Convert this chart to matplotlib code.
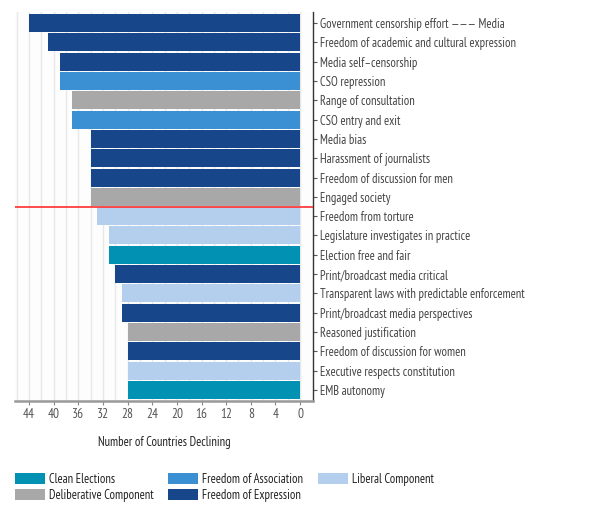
import matplotlib
matplotlib.use("Agg")
import matplotlib.pyplot as plt
from matplotlib.patches import Patch
import numpy as np

plt.rcParams['font.family'] = ['PT Sans Narrow', 'DejaVu Sans']

indicators = [
    "Government censorship effort \u2014\u2014\u2014 Media",
    "Freedom of academic and cultural expression",
    "Media self\u2013censorship",
    "CSO repression",
    "Range of consultation",
    "CSO entry and exit",
    "Media bias",
    "Harassment of journalists",
    "Freedom of discussion for men",
    "Engaged society",
    "Freedom from torture",
    "Legislature investigates in practice",
    "Election free and fair",
    "Print/broadcast media critical",
    "Transparent laws with predictable enforcement",
    "Print/broadcast media perspectives",
    "Reasoned justification",
    "Freedom of discussion for women",
    "Executive respects constitution",
    "EMB autonomy",
]
declining = [44, 41, 39, 39, 37, 37, 34, 34, 34, 34, 33, 31, 31, 30, 29, 29, 28, 28, 28, 28]
component = [
    "Freedom of Expression", "Freedom of Expression", "Freedom of Expression",
    "Freedom of Association", "Deliberative Component", "Freedom of Association",
    "Freedom of Expression", "Freedom of Expression", "Freedom of Expression",
    "Deliberative Component", "Liberal Component", "Liberal Component",
    "Clean Elections", "Freedom of Expression", "Liberal Component",
    "Freedom of Expression", "Deliberative Component", "Freedom of Expression",
    "Liberal Component", "Clean Elections",
]
legend_order = ["Clean Elections", "Deliberative Component", "Freedom of Association",
                "Freedom of Expression", "Liberal Component"]
colors = {
    "Clean Elections": "#0091b3",
    "Deliberative Component": "#a8a8a8",
    "Freedom of Association": "#3b8fd3",
    "Freedom of Expression": "#17468a",
    "Liberal Component": "#b3cfed",
}
x_ticks = [44, 40, 36, 32, 28, 24, 20, 16, 12, 8, 4, 0]

W, H = 601, 521
fig = plt.figure(figsize=(W / 100, H / 100), dpi=100)
ax = fig.add_axes([15 / W, 1 - 401 / H, (313 - 15) / W, (401 - 12) / H])
ax.set_facecolor("#fdfdfd")

y = np.arange(len(indicators))
ax.barh(y, declining, height=0.93, color=[colors[c] for c in component], zorder=2)

ax.set_xlim(46.3, -2.1)
ax.set_ylim(19.57, -0.57)

for g in range(0, 47, 2):
    ax.axvline(g, color="#e8e8e8", lw=1, zorder=1)

ax.axhline(9.5, color="#ff2e2e", lw=1.2, zorder=3)

ax.set_xticks(x_ticks)
ax.set_xticklabels([str(t) for t in x_ticks])
ax.tick_params(axis="x", colors="#888888", labelcolor="#555555", labelsize=9.5, length=3, pad=2)

ax.yaxis.tick_right()
ax.set_yticks(y)
ax.set_yticklabels(indicators)
ax.tick_params(axis="y", colors="#555555", labelcolor="#444444", labelsize=9, length=3, pad=2)

for s in ["top", "left"]:
    ax.spines[s].set_visible(False)
ax.spines["bottom"].set_color("#999999")
ax.spines["bottom"].set_linewidth(1.8)
ax.spines["right"].set_color("#333333")
ax.spines["right"].set_linewidth(1)

ax.set_xlabel("Number of Countries Declining", fontsize=9, color="#222222", labelpad=11)

handles = [Patch(facecolor=colors[c], edgecolor="none") for c in legend_order]
fig.legend(handles, legend_order, ncol=3, loc="upper left", bbox_to_anchor=(15 / W, 1 - 473 / H),
           frameon=False, fontsize=9, handlelength=2.4, handleheight=0.92,
           handletextpad=0.32, columnspacing=1.15, labelspacing=0.22,
           borderpad=0, borderaxespad=0, labelcolor="#222222")

fig.savefig("out.png", dpi=100)
